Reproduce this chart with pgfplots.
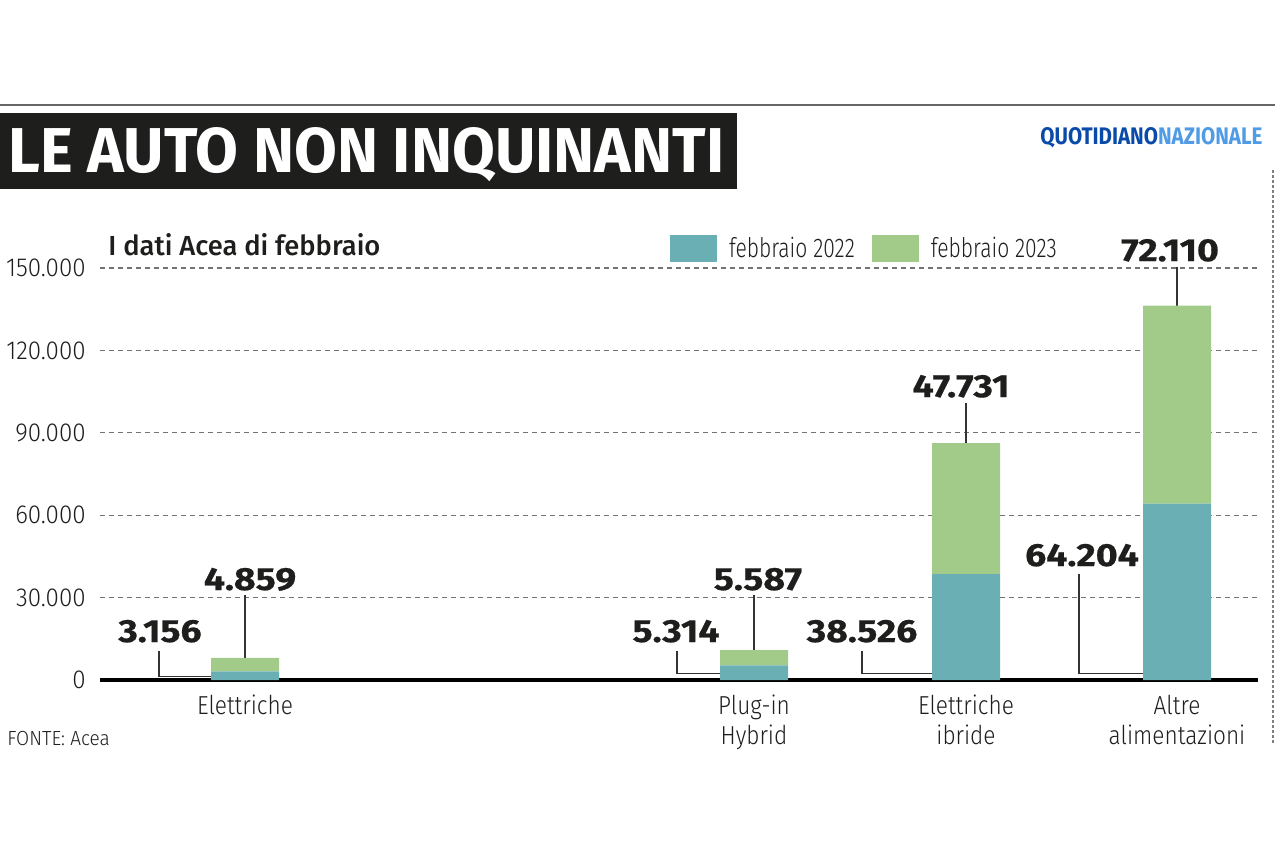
\documentclass[border=0pt]{standalone}
\usepackage{fontspec}
\setmainfont{Fira Sans}
\newfontfamily\lightA[FakeStretch=0.78]{Fira Sans Light}
\newfontfamily\lightB[FakeStretch=0.87]{Fira Sans Light}
\newfontfamily\lightC[FakeStretch=0.93]{Fira Sans Light}
\newfontfamily\medf{Fira Sans Medium}
\newfontfamily\heavyf[FakeStretch=1.17, BoldFeatures={FakeBold=0.6}]{Fira Sans}
\usepackage{pgfplots}
\pgfplotsset{compat=1.18}
\usepackage{pgfplotstable}

\definecolor{teal22}{RGB}{106,175,180}
\definecolor{green23}{RGB}{162,203,138}
\definecolor{qndark}{RGB}{10,75,170}
\definecolor{qnlight}{RGB}{80,155,230}
\definecolor{ink}{RGB}{30,30,28}

\pgfplotstableread{
x y22 y23
245 3156 4859
754 5314 5587
966 38526 47731
1177 64204 72110
}\datatable

\newcommand\vlab{\heavyf\bfseries\fontsize{16}{16}\selectfont}

\begin{document}
\begin{tikzpicture}
\useasboundingbox (0,0) rectangle (640pt,426.5pt);
\begin{scope}[shift={(0,426.5pt)},x=0.5pt,y=-0.5pt]
 \draw[gray!80!black, line width=1pt] (0,105) -- (1275,105);
 \fill[ink] (0,113) rectangle (737,189);
 \node[anchor=base west, inner sep=0, text=white] at (8,172) {\resizebox{358pt}{22.5pt}{\bfseries LE AUTO NON INQUINANTI}};
 \node[anchor=base west, inner sep=0] at (1040,145) {\resizebox{111pt}{8.5pt}{\bfseries\color{qndark}QUOTIDIANO\color{qnlight}NAZIONALE}};
 \draw[gray, line width=1pt, dash pattern=on 1.5pt off 1pt] (1273,170) -- (1273,745);
 \node[anchor=base west, inner sep=0, text=ink] at (108,256) {\resizebox{136pt}{\height}{\medf\fontsize{13.8}{14}\selectfont I dati Acea di febbraio}};
 \node[anchor=base west, inner sep=0, text=ink] at (7,745) {\lightC\fontsize{10.2}{12}\selectfont FONTE: Acea};
\end{scope}

\begin{axis}[
 at={(50pt,86.5pt)}, anchor=south west,
 scale only axis, width=579pt, height=206pt,
 xmin=100, xmax=1258, ymin=0, ymax=150000,
 scaled y ticks=false,
 ybar stacked, bar width=68,
 clip=false,
 axis x line*=bottom, axis y line*=left,
 x axis line style={line width=2pt, -, black},
 y axis line style={draw=none},
 major tick length=0pt, tick style={draw=none},
 ytick={0,30000,60000,90000,120000,150000},
 yticklabels={0,30.000,60.000,90.000,120.000,150.000},
 yticklabel style={font=\lightC\fontsize{13}{14}\selectfont, text=ink, inner sep=0pt, xshift=-7pt},
 xtick={245,754,966,1177},
 xticklabels={Elettriche, Plug-in\\Hybrid, Elettriche\\ibride, Altre\\alimentazioni},
 xticklabel style={font=\lightB\fontsize{13}{15}\selectfont, align=center, text=ink, inner sep=0pt, yshift=-7.5pt},
 ymajorgrids, grid style={gray!90!black, line width=0.6pt, dash pattern=on 2.5pt off 2pt},
 legend columns=2,
 legend image code/.code={\draw[#1,draw=none] (0pt,-6.75pt) rectangle (23.5pt,6.75pt);},
 legend style={draw=none, fill=none, inner sep=0pt, outer sep=0pt,
   at={(axis cs:670,162015)}, anchor=north west,
   font=\lightA\fontsize{13.5}{14}\selectfont, text=ink,
   nodes={inner sep=0pt},
   /tikz/every odd column/.append style={column sep=6pt},
   /tikz/every even column/.append style={column sep=8.5pt}},
]
\addplot[fill=teal22, draw=none] table[x=x, y=y22] {\datatable};
\addplot[fill=green23, draw=none] table[x=x, y=y23] {\datatable};
\legend{febbraio 2022, febbraio 2023}

% leader lines and value labels (2023, above the stacks)
\draw[black!80, line width=0.6pt] (axis cs:245,8015) -- (axis cs:245,30947);
\node[anchor=base, inner sep=0, text=ink] at (axis cs:250,32768) {\vlab 4.859};
\draw[black!80, line width=0.6pt] (axis cs:754,10901) -- (axis cs:754,30947);
\node[anchor=base, inner sep=0, text=ink] at (axis cs:758,32768) {\vlab 5.587};
\draw[black!80, line width=0.6pt] (axis cs:966,86257) -- (axis cs:966,100850);
\node[anchor=base, inner sep=0, text=ink] at (axis cs:961,103000) {\vlab 47.731};
\draw[black!80, line width=0.6pt] (axis cs:1177,136314) -- (axis cs:1177,150365);
\node[anchor=base, inner sep=0, text=ink] at (axis cs:1170,152500) {\vlab 72.110};

% leader lines and value labels (2022, to the left)
\draw[black!80, line width=0.6pt] (axis cs:159,10558) -- (axis cs:159,1300) -- (axis cs:223,1300);
\node[anchor=base, inner sep=0, text=ink] at (axis cs:160,13835) {\vlab 3.156};
\draw[black!80, line width=0.6pt] (axis cs:677,10558) -- (axis cs:677,2500) -- (axis cs:734,2500);
\node[anchor=base, inner sep=0, text=ink] at (axis cs:676,13835) {\vlab 5.314};
\draw[black!80, line width=0.6pt] (axis cs:862,10558) -- (axis cs:862,2500) -- (axis cs:948,2500);
\node[anchor=base, inner sep=0, text=ink] at (axis cs:862,13835) {\vlab 38.526};
\draw[black!80, line width=0.6pt] (axis cs:1079,38592) -- (axis cs:1079,2500) -- (axis cs:1157,2500);
\node[anchor=base, inner sep=0, text=ink] at (axis cs:1082,41500) {\vlab 64.204};
\end{axis}
\end{tikzpicture}
\end{document}
